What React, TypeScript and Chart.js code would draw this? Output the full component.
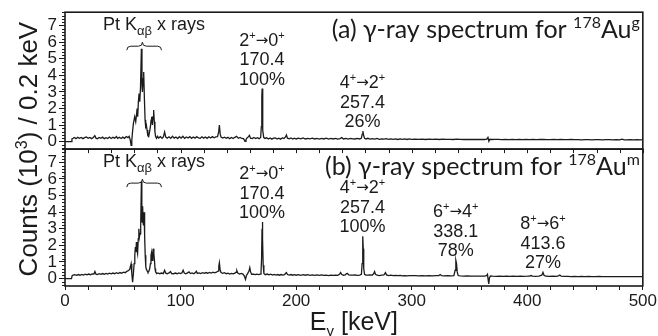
import React, { useEffect, useRef } from 'react';
import { Chart, registerables } from 'chart.js';

Chart.register(...registerables);

// ---------- data (energy keV, counts in 10^3 per 0.2 keV) ----------
const spectrumA: [number, number][] = [
  [0,0],[5.4,0],[6.0,0.16],[7,0.2],[8,0.25],[9.5,0.18],[11,0.26],[12.5,0.2],[14,0.25],[15.5,0.18],[17,0.24],[18.5,0.28],[20,0.2],[21.5,0.25],[23,0.18],[24.5,0.25],[25.8,0.36],[26.8,0.21],[28,0.17],[29.5,0.25],[31,0.2],[32.5,0.27],[34,0.18],[35.5,0.24],[37,0.19],[38.5,0.28],[40,0.19],[41.5,0.26],[43,0.21],[44.5,0.31],[45.5,0.2],[47,0.26],[48.5,0.19],[50,0.27],[51.5,0.2],[53,0.3],[54.5,0.24],[55.5,0.32],[56.4,0.12],[57.2,-0.22],[57.8,0.05],[58.3,0.5],[59.2,1.1],[60.3,1.5],[61.2,1.2],[62.0,1.7],[62.4,2.0],[62.9,1.5],[63.5,2.4],[64.1,2.9],[64.7,2.4],[65.3,3.2],[66.1,5.6],[66.6,3.4],[67.0,3.0],[67.6,3.8],[68.1,4.2],[68.7,2.6],[69.3,1.3],[69.8,0.9],[70.4,1.0],[71.0,0.7],[71.7,0.35],[72.4,0.3],[73.2,0.6],[73.9,0.9],[74.5,1.3],[75.0,1.5],[75.6,1.0],[76.2,1.5],[76.7,1.9],[77.3,1.2],[77.8,0.6],[78.4,0.3],[79.2,0.2],[80,0.32],[81,0.22],[82.5,0.3],[84,0.2],[85.2,0.3],[86.2,0.58],[87.2,0.27],[88.5,0.21],[90,0.29],[91.5,0.2],[93,0.32],[94.5,0.21],[96,0.28],[97.5,0.19],[99,0.3],[100.5,0.21],[102,0.32],[103.5,0.2],[105,0.28],[106.5,0.22],[108,0.3],[109.5,0.2],[111,0.28],[112.5,0.21],[114,0.3],[115.5,0.22],[117,0.2],[118.5,0.29],[120,0.21],[121.5,0.28],[123,0.2],[124.5,0.29],[126,0.22],[127.5,0.3],[129,0.23],[130.5,0.28],[132,0.3],[133,0.6],[133.6,1.0],[134.3,0.45],[135,0.28],[136.5,0.22],[138,0.27],[139.5,0.2],[141,0.26],[142.5,0.18],[144,0.25],[145.5,0.19],[147,0.26],[148.5,0.32],[150,0.2],[151.5,0.25],[153,0.19],[154.5,0.18],[155.8,0.02],[156.6,0.12],[157.5,0.22],[158.8,0.3],[159.6,0.38],[160.5,0.21],[162,0.18],[163.5,0.25],[165,0.19],[166.5,0.24],[168,0.18],[169.3,0.25],[169.9,0.9],[170.3,2.7],[170.6,3.2],[170.9,2.3],[171.3,0.7],[171.9,0.26],[173,0.19],[174.5,0.23],[176,0.16],[177.5,0.22],[179,0.15],[180.5,0.21],[182,0.23],[183.5,0.16],[185,0.21],[186.5,0.15],[188,0.22],[189.5,0.19],[190.8,0.28],[191.6,0.4],[192.5,0.21],[194,0.17],[195.5,0.22],[197,0.16],[198.5,0.21],[200,0.16],[202,0.21],[204,0.17],[206,0.22],[208,0.16],[210,0.2],[212,0.17],[214,0.21],[216,0.16],[218,0.2],[220,0.15],[222,0.2],[224,0.16],[226,0.21],[228,0.15],[230,0.19],[232,0.16],[234,0.2],[236,0.15],[238,0.18],[239.5,0.24],[241,0.16],[243,0.2],[245,0.15],[247,0.2],[249,0.17],[251,0.16],[253,0.19],[255,0.16],[256.5,0.22],[257.2,0.45],[257.8,0.64],[258.4,0.38],[259.2,0.2],[260.5,0.16],[262,0.2],[264,0.15],[266,0.18],[268,0.15],[270,0.19],[272,0.14],[274,0.17],[276,0.15],[278,0.18],[280,0.14],[282,0.17],[284,0.14],[286,0.16],[288,0.13],[290,0.16],[292,0.14],[294,0.17],[296,0.13],[298,0.16],[300,0.14],[303,0.15],[306,0.14],[309,0.15],[312,0.13],[315,0.15],[318,0.14],[321,0.15],[324,0.13],[327,0.15],[330,0.14],[333,0.14],[336,0.13],[339,0.15],[342,0.14],[345,0.13],[348,0.14],[351,0.13],[354,0.14],[357,0.13],[360,0.14],[363,0.13],[365,0.15],[366,0.26],[366.8,0.02],[367.6,0.14],[369,0.13],[372,0.14],[375,0.13],[378,0.12],[381,0.13],[384,0.12],[387,0.13],[390,0.12],[393,0.13],[396,0.12],[399,0.13],[402,0.12],[405,0.13],[408,0.12],[411,0.13],[414,0.13],[417,0.12],[420,0.12],[423,0.13],[426,0.12],[429,0.13],[432,0.12],[435,0.12],[438,0.13],[441,0.12],[444,0.12],[447,0.11],[450,0.12],[453,0.12],[456,0.11],[459,0.12],[462,0.12],[465,0.11],[468,0.12],[471,0.12],[474,0.11],[477,0.12],[480,0.11],[482,0.15],[484,0.11],[486,0.11],[489,0.12],[492,0.11],[495,0.12],[498,0.11],[500,0.12],
];

const spectrumB: [number, number][] = [
  [0,0],[5.6,0],[6.2,0.17],[7,0.2],[8.5,0.23],[10,0.19],[11.5,0.24],[13,0.2],[14.5,0.25],[16,0.21],[17.5,0.26],[19,0.22],[20.5,0.27],[22,0.23],[23.5,0.28],[25,0.27],[25.9,0.42],[26.8,0.26],[28,0.24],[29.5,0.29],[31,0.25],[32.5,0.3],[34,0.26],[35.5,0.31],[37,0.27],[38.5,0.32],[40,0.28],[41.5,0.33],[43,0.29],[44.5,0.35],[46,0.3],[47.5,0.36],[49,0.32],[50.5,0.38],[52,0.35],[53.5,0.43],[55,0.48],[56.0,0.55],[57.2,0.88],[57.8,0.3],[58.5,-0.22],[59.2,0.3],[59.8,0.9],[60.4,1.4],[60.9,1.9],[61.4,1.6],[61.8,2.2],[62.3,1.7],[62.8,1.5],[63.4,2.4],[63.9,3.0],[64.4,2.5],[64.9,2.7],[65.5,3.2],[66.1,5.85],[66.5,3.6],[66.8,3.4],[67.2,4.35],[67.6,3.4],[67.9,3.2],[68.4,4.0],[68.9,2.6],[69.4,1.4],[69.9,0.7],[70.5,0.55],[71.2,0.45],[71.8,0.38],[72.6,0.45],[73.3,0.6],[73.9,0.9],[74.4,1.4],[75.0,1.6],[75.5,1.1],[76.0,1.3],[76.4,1.8],[76.9,1.5],[77.4,1.1],[77.9,0.6],[78.4,0.4],[79.3,0.3],[80.5,0.34],[82,0.29],[83.5,0.33],[85,0.29],[86.2,0.5],[87.2,0.32],[88.5,0.29],[90,0.34],[91.3,0.42],[92.3,0.3],[94,0.29],[95.5,0.33],[97,0.29],[98.5,0.34],[100,0.3],[101.3,0.35],[102.2,0.5],[103.2,0.33],[104.5,0.29],[106,0.34],[107.3,0.4],[108.5,0.3],[110,0.34],[111.5,0.29],[112.8,0.36],[113.6,0.44],[114.5,0.31],[116,0.34],[117.5,0.3],[119,0.35],[120.5,0.31],[122,0.36],[123.5,0.32],[125,0.37],[126.5,0.33],[128,0.38],[129.5,0.34],[131,0.38],[132.4,0.45],[133.1,0.75],[133.6,0.95],[134.2,0.55],[135,0.36],[136.5,0.31],[138,0.35],[139.5,0.29],[141,0.32],[142.5,0.27],[144,0.31],[145.5,0.28],[147,0.32],[148,0.38],[148.7,0.47],[149.5,0.33],[151,0.27],[152.5,0.31],[154,0.27],[155.2,0.15],[156.2,-0.05],[157,0.18],[158,0.3],[159.2,0.45],[159.9,0.66],[160.6,0.4],[161.5,0.26],[163,0.27],[164.5,0.24],[166,0.27],[167.5,0.24],[169,0.27],[169.6,0.35],[170.1,1.2],[170.5,3.0],[170.8,3.4],[171.1,2.4],[171.5,0.8],[172.1,0.3],[173.3,0.23],[175,0.27],[176.5,0.22],[178,0.26],[179.5,0.21],[181,0.25],[182.5,0.21],[184,0.24],[185.5,0.2],[187,0.24],[188.5,0.21],[190,0.24],[190.8,0.3],[191.6,0.36],[192.5,0.24],[194,0.21],[195.5,0.24],[197,0.2],[198.5,0.23],[200,0.2],[202,0.23],[204,0.19],[206,0.23],[208,0.2],[210,0.23],[212,0.19],[214,0.22],[216,0.19],[218,0.22],[220,0.19],[222,0.22],[224,0.19],[226,0.21],[228,0.18],[230,0.21],[232,0.19],[234,0.21],[236,0.19],[237.5,0.25],[238.5,0.36],[239.5,0.24],[241,0.2],[242.5,0.22],[243.5,0.29],[244.5,0.3],[245.5,0.22],[247,0.2],[249,0.21],[251,0.22],[253,0.19],[255,0.21],[256.5,0.25],[257.1,0.9],[257.5,2.0],[257.8,2.55],[258.1,1.8],[258.5,0.6],[259.2,0.26],[260.5,0.21],[262,0.2],[264,0.22],[266,0.21],[267.2,0.3],[267.9,0.42],[268.7,0.25],[270,0.2],[272,0.18],[274,0.21],[276,0.22],[277.3,0.36],[278.2,0.22],[280,0.18],[282,0.2],[284,0.17],[286,0.19],[288,0.17],[290,0.19],[292,0.16],[294,0.18],[296,0.16],[298,0.18],[300,0.17],[303,0.18],[306,0.16],[309,0.17],[312,0.16],[315,0.17],[318,0.16],[321,0.17],[323.5,0.18],[324.7,0.24],[325.8,0.17],[328,0.16],[331,0.17],[334,0.16],[336.5,0.18],[337.6,0.5],[338.2,1.1],[338.8,0.9],[339.4,0.4],[340.2,0.18],[342,0.16],[345,0.15],[348,0.16],[351,0.15],[354,0.15],[357,0.14],[360,0.15],[363,0.14],[364.8,0.17],[365.6,0.25],[366.2,-0.1],[366.7,-0.32],[367.3,0.05],[368.2,0.15],[370,0.14],[373,0.13],[376,0.14],[379,0.13],[382,0.14],[385,0.13],[388,0.14],[391,0.13],[394,0.14],[397,0.13],[400,0.14],[402,0.15],[403.3,0.18],[404.5,0.14],[407,0.13],[410,0.14],[412.6,0.2],[413.6,0.37],[414.5,0.2],[416,0.14],[419,0.13],[422,0.14],[425,0.13],[427,0.16],[428.2,0.21],[429.3,0.14],[432,0.13],[435,0.13],[438,0.12],[441,0.13],[444,0.12],[447,0.13],[450,0.12],[453,0.13],[456,0.12],[459,0.12],[462,0.13],[465,0.12],[468,0.12],[471,0.11],[474,0.12],[477,0.12],[480,0.11],[483,0.12],[486,0.11],[489,0.12],[492,0.11],[495,0.12],[498,0.11],[500,0.12],
];

const xTickValues = [0, 20, 40, 60, 80, 100, 120, 140, 160, 180, 200, 220, 240, 260, 280, 300, 320, 340, 360, 380, 400, 420, 440, 460, 480, 500];
const xLabelValues = [0, 100, 200, 300, 400, 500];
const yTickValues = [0, 1, 2, 3, 4, 5, 6, 7];
const xRange = [0, 500];
const yRange = [-0.45, 7.8];

const transitionsA = [
  { energy: 170.4, from: '2', to: '0', intensity: '100%' },
  { energy: 257.4, from: '4', to: '2', intensity: '26%' },
];
const transitionsB = [
  { energy: 170.4, from: '2', to: '0', intensity: '100%' },
  { energy: 257.4, from: '4', to: '2', intensity: '100%' },
  { energy: 338.1, from: '6', to: '4', intensity: '78%' },
  { energy: 413.6, from: '8', to: '6', intensity: '27%' },
];
const panelTitles = [
  { prefix: '(a) γ-ray spectrum for ', mass: '178', element: 'Au', state: 'g' },
  { prefix: '(b) γ-ray spectrum for ', mass: '178', element: 'Au', state: 'm' },
];
const xrayLabel = { main: 'Pt K', sub: 'αβ', rest: ' x rays', from: 53.5, tip: 67, to: 83.5, center: 77 };
const yTitle = { before: 'Counts (10', sup: '3', after: ') / 0.2 keV' };
const xTitle = { main: 'E', sub: 'γ', after: ' [keV]' };

// ---------- drawing helpers ----------
type Seg = { t: string; size: number; dy?: number; family?: string };
const SANS = '"Liberation Sans", Arial, sans-serif';
const ARROW_FONT = '"DejaVu Sans", sans-serif';
const TITLE_FONT = 'Lato, "Open Sans", sans-serif';
const INK = '#1b1b1b';

function richWidth(ctx: CanvasRenderingContext2D, segs: Seg[], family: string) {
  let w = 0;
  for (const s of segs) {
    ctx.font = `${s.size}px ${s.family || family}`;
    w += ctx.measureText(s.t).width;
  }
  return w;
}
function drawRich(ctx: CanvasRenderingContext2D, segs: Seg[], x: number, y: number, align: 'left' | 'center' | 'right', family: string) {
  const w = richWidth(ctx, segs, family);
  let cx = align === 'center' ? x - w / 2 : align === 'right' ? x - w : x;
  ctx.textAlign = 'left';
  ctx.textBaseline = 'alphabetic';
  for (const s of segs) {
    ctx.font = `${s.size}px ${s.family || family}`;
    ctx.fillText(s.t, cx, y + (s.dy || 0));
    cx += ctx.measureText(s.t).width;
  }
}

function peakMax(data: [number, number][], e: number) {
  let m = -Infinity;
  for (const [x, y] of data) if (Math.abs(x - e) <= 1.5 && y > m) m = y;
  return m;
}

const decorPlugin = {
  id: 'decor',
  afterDraw(chart: any) {
    const ctx: CanvasRenderingContext2D = chart.ctx;
    const xs = chart.scales.x;
    const panels = [
      { s: chart.scales.yA, data: spectrumA, tr: transitionsA, title: panelTitles[0] },
      { s: chart.scales.yB, data: spectrumB, tr: transitionsB, title: panelTitles[1] },
    ];
    const left = chart.chartArea.left;
    const right = chart.chartArea.right;
    ctx.save();
    ctx.strokeStyle = INK;
    ctx.fillStyle = INK;

    for (const p of panels) {
      const ys = p.s;
      ctx.lineWidth = 1.6;
      ctx.strokeRect(left, ys.top, right - left, ys.bottom - ys.top);
      ctx.lineWidth = 1;
      for (let k = -2; k <= 39; k++) {
        if (k % 5 === 0) continue;
        const py = Math.round(ys.getPixelForValue(k / 5)) + 0.5;
        if (py < ys.top || py > ys.bottom) continue;
        ctx.beginPath();
        ctx.moveTo(left - 3, py);
        ctx.lineTo(left, py);
        ctx.stroke();
      }
      for (const t of p.tr) {
        const cx = xs.getPixelForValue(t.energy);
        const base = ys.getPixelForValue(peakMax(p.data, t.energy)) - 4;
        drawRich(ctx, [{ t: t.intensity, size: 18 }], cx, base, 'center', SANS);
        drawRich(ctx, [{ t: t.energy.toFixed(1), size: 18 }], cx, base - 19.5, 'center', SANS);
        drawRich(ctx, [
          { t: t.from, size: 18 }, { t: '+', size: 11, dy: -7 },
          { t: '→', size: 15, dy: -1, family: ARROW_FONT },
          { t: t.to, size: 18 }, { t: '+', size: 11, dy: -7 },
        ], cx, base - 39, 'center', SANS);
      }
      const lx = xs.getPixelForValue(xrayLabel.center);
      drawRich(ctx, [
        { t: xrayLabel.main, size: 18 }, { t: xrayLabel.sub, size: 13, dy: 5 }, { t: xrayLabel.rest, size: 18 },
      ], lx, ys.top + 18, 'center', SANS);
      const x1 = xs.getPixelForValue(xrayLabel.from);
      const x2 = xs.getPixelForValue(xrayLabel.to);
      const xt = xs.getPixelForValue(xrayLabel.tip);
      const yl = ys.top + 34, ye = ys.top + 38, yt = ys.top + 30;
      ctx.lineWidth = 1;
      ctx.beginPath();
      ctx.moveTo(x1, ye);
      ctx.quadraticCurveTo(x1, yl, x1 + 4, yl);
      ctx.lineTo(xt - 4, yl);
      ctx.quadraticCurveTo(xt, yl, xt, yt);
      ctx.quadraticCurveTo(xt, yl, xt + 4, yl);
      ctx.lineTo(x2 - 4, yl);
      ctx.quadraticCurveTo(x2, yl, x2, ye);
      ctx.stroke();
      drawRich(ctx, [
        { t: p.title.prefix, size: 25 }, { t: p.title.mass, size: 16, dy: -10 },
        { t: p.title.element, size: 25 }, { t: p.title.state, size: 16, dy: -10 },
      ], right - 3, ys.top + 26, 'right', TITLE_FONT);
    }

    const yB = chart.scales.yB;
    ctx.lineWidth = 1;
    for (const v of xTickValues) {
      const px = Math.round(xs.getPixelForValue(v)) + 0.5;
      ctx.beginPath();
      ctx.moveTo(px, yB.top);
      ctx.lineTo(px, yB.top + 4);
      ctx.stroke();
    }

    ctx.save();
    const cy = (chart.chartArea.top + chart.chartArea.bottom) / 2;
    ctx.translate(37, cy);
    ctx.rotate(-Math.PI / 2);
    drawRich(ctx, [
      { t: yTitle.before, size: 26 }, { t: yTitle.sup, size: 16, dy: -10 }, { t: yTitle.after, size: 26 },
    ], 0, 0, 'center', SANS);
    ctx.restore();

    drawRich(ctx, [
      { t: xTitle.main, size: 25 }, { t: xTitle.sub, size: 15, dy: 6 }, { t: xTitle.after, size: 25 },
    ], (left + right) / 2, 330, 'center', SANS);
    ctx.restore();
  },
};

function yScale() {
  return {
    type: 'linear' as const,
    position: 'left' as const,
    stack: 'panels',
    stackWeight: 1,
    min: yRange[0],
    max: yRange[1],
    afterBuildTicks: (s: any) => { s.ticks = yTickValues.map((v) => ({ value: v })); },
    afterFit: (s: any) => { s.width = 65; },
    ticks: {
      autoSkip: false,
      padding: 2,
      color: INK,
      font: { family: SANS, size: 17 },
      callback: (v: any) => String(v),
    },
    grid: { display: true, drawOnChartArea: false, drawTicks: true, tickLength: 6, color: INK, lineWidth: 1 },
    border: { display: false },
  };
}

export default function App() {
  const ref = useRef<HTMLCanvasElement | null>(null);
  useEffect(() => {
    document.body.style.margin = '0';
    const canvas = ref.current!;
    const chart = new Chart(canvas, {
      type: 'line',
      data: {
        datasets: [
          {
            data: spectrumA.map(([x, y]) => ({ x, y })),
            yAxisID: 'yA',
            borderColor: INK,
            borderWidth: 1.3,
            pointRadius: 0,
            tension: 0,
            fill: false,
          },
          {
            data: spectrumB.map(([x, y]) => ({ x, y })),
            yAxisID: 'yB',
            borderColor: INK,
            borderWidth: 1.3,
            pointRadius: 0,
            tension: 0,
            fill: false,
          },
        ],
      },
      options: {
        animation: false,
        responsive: false,
        layout: { padding: { left: 0, right: 13, top: 10, bottom: 0 } },
        plugins: { legend: { display: false }, tooltip: { enabled: false } },
        scales: {
          x: {
            type: 'linear',
            min: xRange[0],
            max: xRange[1],
            afterBuildTicks: (s: any) => { s.ticks = xTickValues.map((v) => ({ value: v })); },
            afterFit: (s: any) => { s.height = 50; },
            ticks: {
              autoSkip: false,
              maxRotation: 0,
              padding: 1,
              color: INK,
              font: { family: SANS, size: 17 },
              callback: (v: any) => (xLabelValues.includes(Number(v)) ? String(v) : ''),
            },
            grid: { display: true, drawOnChartArea: false, drawTicks: true, tickLength: 4, color: INK, lineWidth: 1 },
            border: { display: false },
          },
          yB: yScale(),
          yA: yScale(),
        },
      },
      plugins: [decorPlugin],
    });
    return () => chart.destroy();
  }, []);
  return (
    <div style={{ width: 658, height: 336 }}>
      <canvas ref={ref} width={658} height={336} style={{ display: 'block' }} />
    </div>
  );
}
